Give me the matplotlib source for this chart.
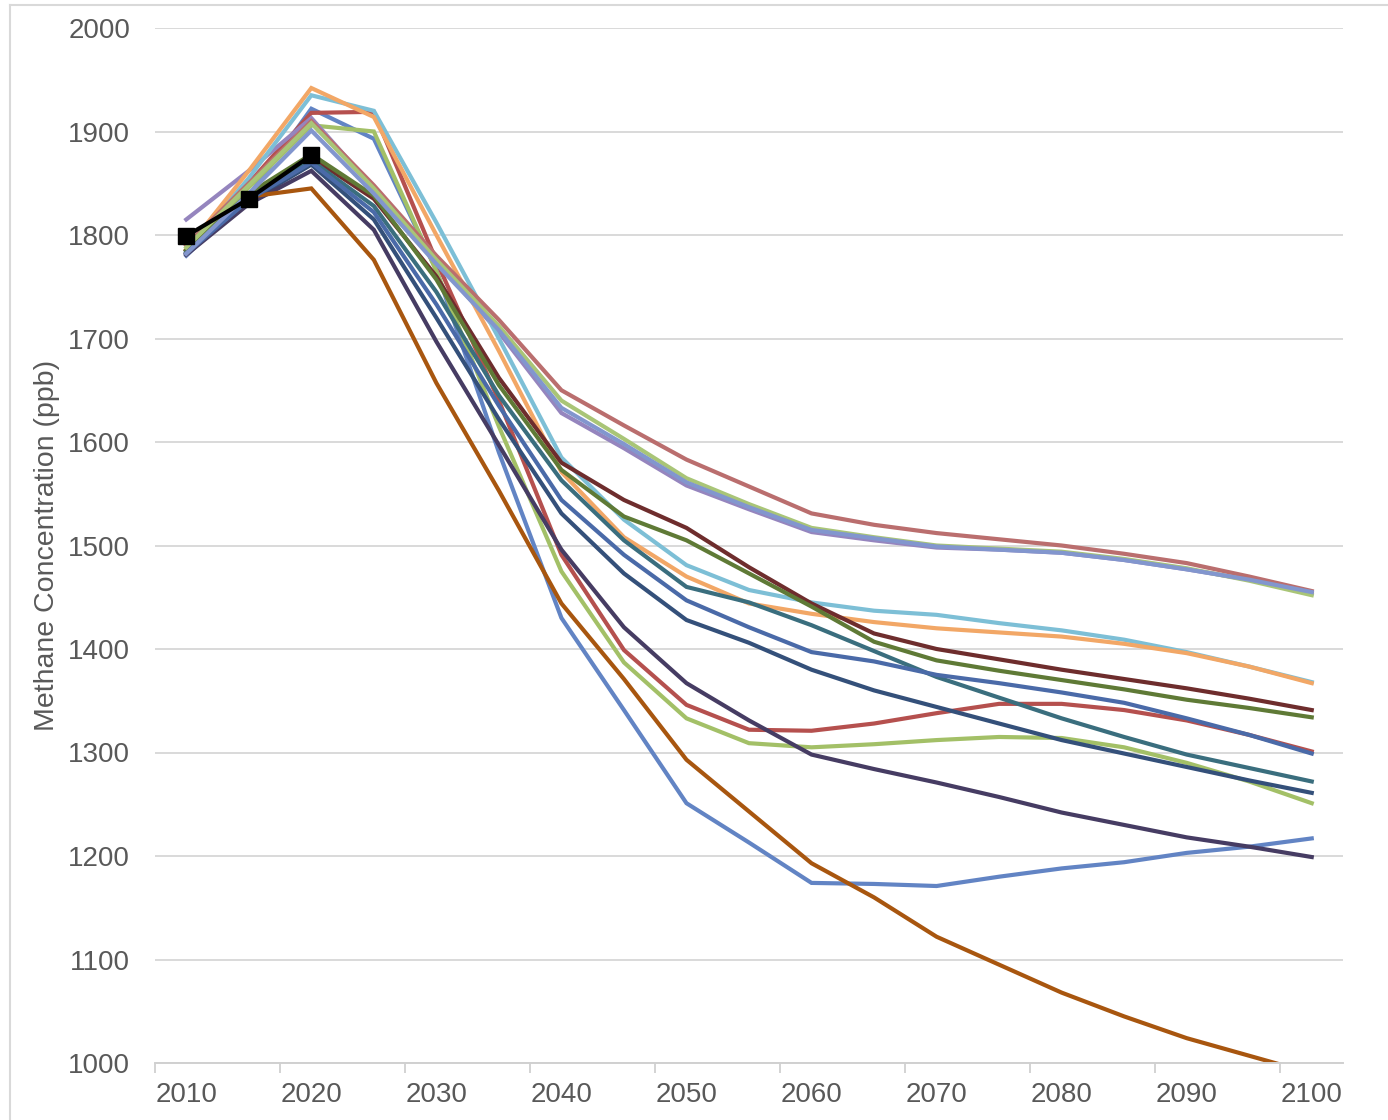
import matplotlib
matplotlib.use("Agg")
import matplotlib.pyplot as plt
from matplotlib.lines import Line2D

plt.rcParams['font.family'] = ['Liberation Sans', 'DejaVu Sans']

years = [2010, 2015, 2020, 2025, 2030, 2035, 2040, 2045, 2050, 2055, 2060,
         2065, 2070, 2075, 2080, 2085, 2090, 2095, 2100]

obs_years = [2010, 2015, 2020]
observed = [1799, 1835, 1877]

blue_steep = [1780, 1838, 1922, 1893, 1766, 1590, 1430, 1341, 1251, 1213, 1174,
              1173, 1171, 1180, 1188, 1194, 1203, 1209, 1217]
red = [1785, 1850, 1918, 1919, 1775, 1640, 1491, 1399, 1346, 1322, 1321,
       1328, 1338, 1347, 1347, 1341, 1331, 1317, 1301]
green_low = [1786, 1846, 1906, 1900, 1765, 1615, 1475, 1387, 1333, 1309, 1305,
             1308, 1312, 1315, 1314, 1305, 1290, 1272, 1251]
aqua = [1784, 1855, 1935, 1920, 1812, 1700, 1585, 1525, 1481, 1457, 1445,
        1437, 1433, 1425, 1418, 1409, 1397, 1383, 1368]
orange = [1786, 1862, 1942, 1914, 1800, 1688, 1571, 1508, 1470, 1444, 1434,
          1426, 1420, 1416, 1412, 1405, 1396, 1383, 1367]
rosy = [1790, 1850, 1910, 1848, 1780, 1718, 1650, 1616, 1583, 1557, 1531,
        1520, 1512, 1506, 1500, 1492, 1483, 1470, 1456]
light_green = [1788, 1848, 1908, 1845, 1776, 1712, 1640, 1603, 1565, 1540, 1517,
               1508, 1500, 1497, 1494, 1487, 1478, 1466, 1452]
periwinkle = [1782, 1840, 1901, 1840, 1772, 1708, 1633, 1598, 1561, 1537, 1515,
              1507, 1499, 1496, 1493, 1486, 1477, 1467, 1455]
purple = [1815, 1862, 1913, 1845, 1775, 1706, 1628, 1594, 1558, 1535, 1513,
          1505, 1498, 1496, 1493, 1486, 1477, 1467, 1454]
dark_red = [1785, 1838, 1875, 1835, 1760, 1662, 1580, 1544, 1517, 1479, 1444,
            1415, 1400, 1390, 1380, 1371, 1362, 1352, 1341]
olive = [1785, 1840, 1878, 1838, 1757, 1655, 1573, 1528, 1505, 1473, 1441,
         1407, 1389, 1379, 1370, 1361, 1351, 1343, 1334]
teal = [1783, 1836, 1872, 1828, 1745, 1645, 1563, 1505, 1460, 1445, 1423,
        1398, 1373, 1353, 1333, 1315, 1298, 1285, 1272]
navy = [1782, 1832, 1868, 1815, 1720, 1622, 1531, 1473, 1428, 1406, 1380,
        1360, 1344, 1328, 1312, 1299, 1286, 1273, 1261]
med_blue = [1782, 1834, 1870, 1822, 1733, 1635, 1544, 1491, 1447, 1421, 1397,
            1388, 1375, 1367, 1358, 1348, 1333, 1317, 1299]
dark_purple = [1781, 1830, 1862, 1805, 1697, 1597, 1496, 1421, 1367, 1331, 1298,
               1284, 1271, 1257, 1242, 1230, 1218, 1209, 1199]
brown = [1782, 1837, 1845, 1776, 1657, 1553, 1444, 1371, 1293, 1243, 1193,
         1160, 1122, 1095, 1068, 1045, 1024, 1007, 990]

series = [
    (blue_steep, '#6284C4'),
    (red, '#B5504E'),
    (green_low, '#A3C067'),
    (purple, '#9585BE'),
    (aqua, '#7DBFD6'),
    (orange, '#F2A766'),
    (navy, '#34507A'),
    (dark_red, '#6E2D2D'),
    (olive, '#5F7A36'),
    (dark_purple, '#463C63'),
    (teal, '#3A6E7E'),
    (brown, '#A8560F'),
    (med_blue, '#4A6AA8'),
    (rosy, '#BA6E6E'),
    (light_green, '#A9C577'),
    (periwinkle, '#8296CE'),
]

fig = plt.figure(figsize=(13.88, 11.2), dpi=100)
ax = fig.add_axes([155/1388, 1 - 1063/1120, (1343-155)/1388, (1063-28)/1120])

for vals, col in series:
    ax.plot(years, vals, color=col, lw=3.0, solid_joinstyle='miter')

ax.plot(obs_years, observed, color='black', lw=3, marker='s', markersize=12,
        zorder=5)

ax.set_xlim(2007.5, 2102.5)
ax.set_ylim(1000, 2000)
ax.set_yticks(range(1000, 2001, 100))
ax.set_xticks(range(2010, 2101, 10))
ax.set_xticks([2007.5 + 10*k for k in range(10)], minor=True)
ax.tick_params(axis='x', which='major', length=0, pad=14, labelsize=20,
               labelcolor='#595959')
ax.tick_params(axis='x', which='minor', length=7, width=1.3, color='#D0D0D0')
ax.tick_params(axis='y', length=0, pad=18, labelsize=20, labelcolor='#595959')
ax.grid(axis='y', color='#D9D9D9', lw=1.4)
ax.set_axisbelow(True)
for s in ['top', 'right', 'left']:
    ax.spines[s].set_visible(False)
ax.spines['bottom'].set_color('#D0D0D0')
ax.spines['bottom'].set_linewidth(1.4)

ax.set_ylabel('Methane Concentration (ppb)', fontsize=20.5, color='#595959')
ax.yaxis.set_label_coords((60 - 155) / 1188, 0.5)

# chart-area border (top and left edges visible)
fig.add_artist(Line2D([10/1388, 1.0], [1 - 5/1120, 1 - 5/1120],
                      transform=fig.transFigure, color='#D9D9D9', lw=1.5))
fig.add_artist(Line2D([10/1388, 10/1388], [0.0, 1 - 5/1120],
                      transform=fig.transFigure, color='#D9D9D9', lw=1.5))

fig.savefig('out.png', dpi=100)
